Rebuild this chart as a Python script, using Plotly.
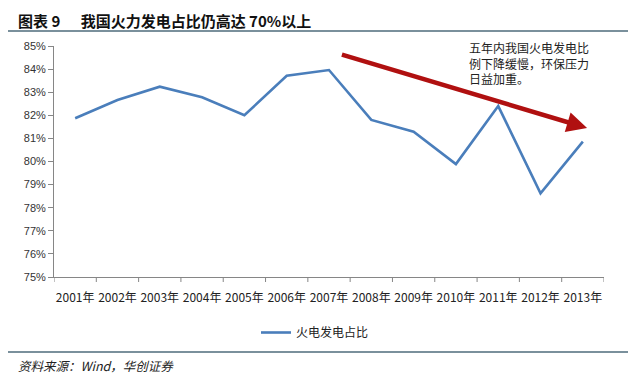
import plotly.graph_objects as go

years = ["2001年", "2002年", "2003年", "2004年", "2005年", "2006年", "2007年",
         "2008年", "2009年", "2010年", "2011年", "2012年", "2013年"]
share = [81.87, 82.66, 83.24, 82.78, 82.00, 83.71, 83.96,
         81.80, 81.29, 79.89, 82.40, 78.62, 80.86]
series_name = "火电发电占比"
y_ticks = [75, 76, 77, 78, 79, 80, 81, 82, 83, 84, 85]
y_tick_labels = ["75%", "76%", "77%", "78%", "79%", "80%", "81%", "82%", "83%", "84%", "85%"]
arrow_from = (6.27, 84.65)
arrow_to = (12.1, 81.45)

W, H = 635, 389
L, R, T, B = 54, 31, 46, 112
PW, PH = W - L - R, H - T - B


def px_x(px):
    return (px - L) / PW


def px_y(py):
    return (H - B - py) / PH


fig = go.Figure()
fig.add_trace(go.Scatter(
    x=list(range(len(years))), y=share, mode="lines", name=series_name,
    line=dict(color="#4A7EBB", width=2.6),
))

fig.update_layout(
    width=W, height=H,
    margin=dict(l=L, r=R, t=T, b=B),
    paper_bgcolor="white", plot_bgcolor="white",
    font=dict(family="Noto Sans CJK SC, Noto Sans, sans-serif", color="#222222"),
    showlegend=True,
    legend=dict(orientation="h", x=px_x(256), y=px_y(318), xanchor="left", yanchor="top",
                font=dict(size=12, color="#222222"), itemwidth=30,
                bgcolor="rgba(0,0,0,0)"),
    xaxis=dict(
        range=[-0.5, len(years) - 0.5],
        tickmode="array", tickvals=list(range(len(years))), ticktext=years,
        showgrid=False, zeroline=False,
        showline=True, linecolor="#868686", linewidth=1,
        ticks="outside", ticklen=10, tickcolor="rgba(0,0,0,0)",
        tickfont=dict(size=12, family="Noto Sans CJK SC", color="#222222"),
    ),
    yaxis=dict(
        range=[75, 85], tickmode="array", tickvals=y_ticks, ticktext=y_tick_labels,
        showgrid=False, zeroline=False,
        showline=True, linecolor="#868686", linewidth=1,
        ticks="outside", ticklen=5, tickcolor="#868686",
        tickfont=dict(size=11, family="Liberation Sans", color="#333333"),
    ),
)

# category boundary ticks on x axis
for i in range(len(years) + 1):
    fig.add_shape(type="line", xref="x", yref="paper",
                  x0=i - 0.5, x1=i - 0.5, y0=0, y1=-5 / PH,
                  line=dict(color="#868686", width=1))

# trend arrow
fig.add_annotation(
    x=arrow_to[0], y=arrow_to[1], ax=arrow_from[0], ay=arrow_from[1],
    xref="x", yref="y", axref="x", ayref="y",
    showarrow=True, arrowhead=2, arrowsize=0.9, arrowwidth=4.5,
    arrowcolor="#B01010", text="",
)

# note text
fig.add_annotation(
    xref="paper", yref="paper", x=px_x(467), y=px_y(37),
    xanchor="left", yanchor="top", showarrow=False, align="left",
    text="五年内我国火电发电比<br>例下降缓慢，环保压力<br>日益加重。",
    font=dict(size=12, color="#222222", family="Noto Sans CJK SC"),
)

# header title
fig.add_annotation(
    xref="paper", yref="paper", x=px_x(16), y=px_y(8),
    xanchor="left", yanchor="top", showarrow=False, align="left",
    text="<b>图表 9&nbsp;&nbsp;&nbsp;&nbsp;&nbsp;&nbsp;我国火力发电占比仍高达 70%以上</b>",
    font=dict(size=15, color="#111111", family="Noto Sans CJK SC"),
)

# source
fig.add_annotation(
    xref="paper", yref="paper", x=px_x(16), y=px_y(354),
    xanchor="left", yanchor="top", showarrow=False, align="left",
    text="<i>资料来源：Wind，华创证券</i>",
    font=dict(size=12.5, color="#222222", family="Noto Sans CJK SC"),
)

# rules
for ry in (31, 352):
    fig.add_shape(type="line", xref="paper", yref="paper",
                  x0=px_x(8), x1=px_x(628), y0=px_y(ry), y1=px_y(ry),
                  line=dict(color="#7A909C", width=2))

fig.write_html("out.html", config={"displayModeBar": False},
               post_script="document.body.style.margin='0';")
